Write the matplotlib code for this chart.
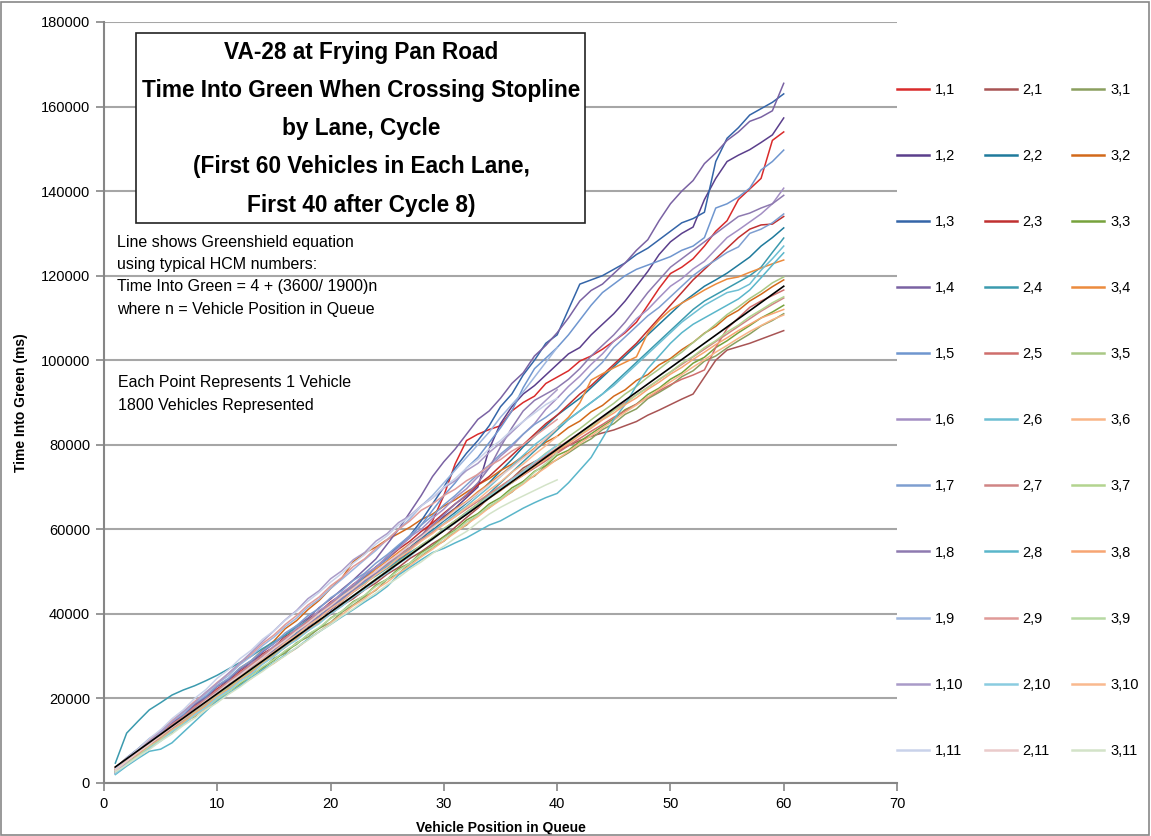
import matplotlib
matplotlib.use("Agg")
import matplotlib.pyplot as plt
import numpy as np
from matplotlib.patches import Rectangle

plt.rcParams['font.family'] = ['Liberation Sans', 'DejaVu Sans']

# values in seconds (x1000 -> ms); position in queue starts at 1
v1_1 = [3.5, 5.3, 7.4, 9.5, 11.2, 13.4, 15.0, 17.3, 19.1, 21.0, 23.2, 24.8, 27.0, 28.6, 30.9, 32.7, 34.5, 36.2, 38.4, 40.1,
        42.5, 44.0, 46.3, 48.0, 50.2, 52.5, 55.0, 58.3, 62.0, 68.0, 75.5, 81.0, 82.5, 83.6, 84.5, 88.0, 90.0, 91.5, 94.5, 96.0,
        97.5, 99.8, 101.0, 102.6, 104.5, 106.5, 109.0, 113.0, 117.0, 120.5, 122.0, 124.0, 127.0, 130.5, 133.0, 138.0, 140.5, 143.0, 152.0, 154.0]
v1_2 = [2.2, 4.8, 7.0, 9.0, 11.2, 13.0, 15.3, 17.0, 19.2, 21.2, 23.0, 25.2, 27.0, 29.5, 31.2, 33.0, 35.5, 37.0, 39.2, 41.0,
        43.0, 45.2, 47.0, 49.5, 51.2, 53.0, 55.5, 57.5, 60.5, 63.0, 65.0, 67.5, 70.0, 79.0, 85.0, 89.0, 92.0, 94.0, 96.5, 99.0,
        101.5, 103.0, 106.0, 108.5, 111.0, 114.0, 117.5, 121.0, 125.0, 128.0, 130.0, 131.5, 138.0, 143.0, 147.0, 148.5, 149.8, 151.5, 153.3, 157.3]
v1_3 = [3.3, 5.6, 7.5, 9.8, 12.5, 14.0, 16.5, 18.0, 20.5, 22.0, 24.5, 26.0, 28.4, 30.5, 32.0, 34.5, 36.0, 38.5, 40.5, 42.0,
        44.5, 46.5, 48.5, 51.0, 53.5, 56.0, 58.5, 62.0, 66.0, 70.0, 74.5, 78.0, 81.0, 84.5, 89.0, 92.0, 96.5, 100.0, 104.0, 106.0,
        112.0, 118.0, 119.0, 120.0, 121.5, 123.0, 125.0, 126.5, 128.5, 130.5, 132.5, 133.5, 135.0, 147.0, 152.5, 155.0, 158.0, 159.5, 161.0, 163.0]
v1_4 = [3.0, 5.5, 7.8, 10.0, 12.0, 14.3, 16.0, 18.5, 20.2, 22.8, 24.5, 26.8, 28.5, 31.0, 33.0, 35.0, 37.2, 39.0, 41.5, 43.5,
        45.8, 48.0, 50.5, 53.0, 56.5, 60.0, 64.0, 68.0, 72.5, 76.0, 79.0, 82.5, 86.0, 88.0, 91.0, 94.5, 97.0, 101.0, 103.5, 106.5,
        110.0, 114.0, 116.5, 118.0, 120.5, 123.0, 126.0, 128.5, 133.0, 137.0, 140.0, 142.5, 146.5, 149.0, 152.0, 154.0, 156.5, 157.5, 159.0, 165.5]
v1_5 = [3.0, 5.2, 7.6, 9.4, 11.8, 13.5, 15.9, 17.6, 20.0, 21.8, 24.0, 25.7, 28.0, 30.2, 32.0, 34.3, 36.0, 38.4, 40.2, 42.5,
        44.6, 46.4, 48.9, 51.0, 53.0, 55.8, 58.0, 61.0, 64.5, 68.0, 71.0, 74.5, 77.0, 80.5, 84.0, 88.0, 93.5, 98.0, 100.5, 103.0,
        106.0, 109.5, 113.0, 116.0, 118.0, 120.0, 121.5, 122.5, 123.5, 124.5, 126.0, 127.0, 129.0, 136.0, 137.0, 138.6, 140.7, 145.0, 147.0, 149.7]
v1_6 = [2.8, 5.0, 7.4, 9.2, 11.6, 13.3, 15.7, 17.4, 19.8, 21.6, 23.9, 25.8, 28.3, 30.0, 32.4, 34.0, 36.6, 38.2, 40.8, 42.5,
        45.0, 46.9, 49.4, 51.0, 53.6, 55.5, 58.2, 60.0, 62.6, 64.8, 67.5, 69.6, 72.4, 74.5, 77.3, 79.6, 82.5, 85.0, 88.4, 91.0,
        93.8, 96.2, 99.0, 101.5, 104.5, 106.8, 109.8, 112.0, 114.8, 117.5, 119.3, 121.6, 123.4, 126.2, 129.0, 130.8, 132.7, 134.6, 137.0, 140.7]
v1_7 = [3.4, 6.0, 8.1, 10.5, 12.2, 14.6, 16.3, 18.9, 20.6, 23.0, 24.8, 27.2, 29.0, 31.3, 33.0, 35.5, 37.2, 39.6, 41.3, 43.8,
        45.5, 47.9, 49.6, 52.0, 54.0, 56.3, 58.5, 61.0, 63.2, 65.8, 68.0, 70.5, 73.0, 75.2, 77.8, 80.0, 82.5, 84.8, 86.5, 88.5,
        91.5, 94.0, 97.0, 99.5, 103.0, 105.5, 108.0, 110.5, 112.5, 115.0, 117.5, 120.0, 122.0, 123.7, 125.5, 126.8, 130.0, 131.0, 132.5, 134.6]
v1_8 = [2.5, 4.6, 6.9, 8.7, 11.0, 12.8, 15.0, 17.2, 19.0, 21.3, 23.0, 25.4, 27.2, 29.4, 31.3, 33.5, 35.2, 37.6, 39.4, 41.5,
        43.6, 45.5, 47.8, 49.6, 52.0, 54.0, 56.5, 58.6, 61.0, 63.5, 66.0, 68.2, 71.0, 74.5, 79.5, 84.0, 88.0, 90.5, 92.0, 93.5,
        95.5, 98.0, 101.0, 103.5, 106.0, 109.0, 112.5, 116.0, 119.0, 122.0, 124.0, 126.0, 128.0, 130.0, 132.0, 134.0, 134.8, 136.0, 137.0, 139.0]
v1_9 = [3.0, 5.5, 7.6, 10.1, 12.0, 14.6, 16.5, 19.0, 21.0, 23.5, 25.4, 28.0, 30.0, 32.5, 34.5, 37.0, 39.0, 41.6, 43.5, 46.0,
        48.2, 50.5, 52.8, 55.0, 57.6, 60.0, 62.5, 65.5, 68.0, 71.0, 74.0, 77.0, 80.0, 83.0, 86.5, 89.5, 92.5, 96.0, 99.5, 103.0]
v1_10 = [2.4, 5.0, 7.5, 9.8, 12.2, 14.5, 16.9, 19.0, 21.5, 23.6, 26.0, 28.4, 30.9, 33.5, 36.0, 38.6, 40.8, 43.6, 45.5, 48.3,
         50.2, 52.8, 54.5, 57.2, 59.0, 61.6, 63.2, 65.6, 67.4, 69.8, 71.5, 73.9, 75.6, 78.2, 80.4, 83.0, 85.5, 88.0, 90.5, 93.0]
v1_11 = [3.4, 5.8, 8.0, 10.5, 12.6, 15.2, 17.3, 20.0, 22.1, 24.8, 26.8, 29.4, 31.4, 34.0, 36.0, 38.5, 40.6, 43.0, 45.1, 47.5,
         49.6, 52.0, 54.0, 56.5, 58.5, 61.0, 63.0, 65.5, 67.5, 70.0, 72.0, 74.5, 76.5, 79.0, 81.0, 83.5, 85.5, 87.5, 89.5, 91.0]

v2_1 = [3.1, 5.0, 7.2, 9.0, 11.2, 13.0, 15.1, 16.9, 19.0, 20.8, 22.9, 24.6, 26.8, 28.5, 30.6, 32.3, 34.5, 36.1, 38.2, 39.9,
        42.0, 43.6, 45.7, 47.3, 49.4, 51.0, 53.1, 54.7, 56.6, 58.2, 60.5, 62.8, 65.0, 67.5, 70.0, 72.0, 74.5, 76.0, 77.2, 78.5,
        79.8, 81.0, 82.0, 82.8, 83.5, 84.5, 85.5, 87.0, 88.2, 89.5, 90.8, 92.0, 96.0, 100.0, 102.4, 103.2, 104.0, 105.0, 106.0, 107.0]
v2_2 = [2.8, 5.3, 7.0, 9.3, 11.0, 13.4, 15.0, 17.5, 19.2, 21.5, 23.3, 25.6, 27.3, 29.6, 31.4, 33.6, 35.4, 37.7, 39.5, 41.7,
        43.5, 45.8, 47.6, 49.8, 51.6, 53.9, 55.7, 58.0, 59.8, 62.0, 64.0, 66.2, 68.5, 71.0, 73.8, 76.5, 79.5, 82.0, 84.5, 87.0,
        89.0, 91.0, 93.5, 96.0, 98.5, 101.0, 103.5, 106.0, 108.5, 111.0, 113.5, 115.5, 117.5, 119.0, 120.6, 122.5, 124.4, 127.0, 129.0, 131.3]
v2_3 = [3.6, 5.8, 7.7, 10.0, 11.7, 14.1, 15.8, 18.2, 20.0, 22.3, 24.0, 26.4, 28.2, 30.5, 32.2, 34.6, 36.3, 38.7, 40.5, 42.8,
        44.6, 47.0, 48.8, 51.1, 53.0, 55.3, 57.2, 59.5, 61.5, 63.8, 66.0, 68.0, 70.5, 72.5, 75.0, 77.5, 80.0, 82.5, 85.0, 87.0,
        89.5, 92.0, 94.0, 96.5, 99.0, 101.5, 104.0, 107.0, 110.0, 113.0, 116.0, 119.0, 121.5, 124.0, 126.5, 129.0, 131.0, 132.0, 132.2, 134.0]
v2_4 = [4.7, 11.8, 14.6, 17.3, 19.0, 20.8, 22.0, 23.0, 24.2, 25.5, 27.0, 28.5, 30.0, 31.8, 33.4, 35.0, 36.8, 38.5, 40.2, 42.0,
        43.8, 45.5, 47.3, 49.0, 50.8, 52.6, 54.5, 56.2, 58.0, 60.0, 62.0, 64.0, 66.0, 68.5, 71.0, 73.5, 76.0, 78.5, 81.0, 83.5,
        86.0, 88.0, 90.0, 92.0, 94.5, 97.0, 99.5, 102.0, 104.5, 107.0, 109.5, 112.0, 114.0, 115.5, 117.0, 118.5, 120.0, 122.0, 125.5, 128.9]
v2_5 = [3.2, 5.1, 7.0, 8.9, 10.8, 12.7, 14.6, 16.5, 18.4, 20.3, 22.4, 24.3, 26.3, 28.2, 30.2, 32.1, 34.1, 36.0, 38.1, 40.0,
        42.1, 44.0, 46.0, 48.0, 50.0, 52.0, 54.0, 56.0, 58.0, 60.0, 62.0, 63.8, 65.6, 67.5, 69.3, 71.0, 72.8, 74.5, 76.2, 78.0,
        79.8, 81.5, 83.2, 84.8, 86.5, 88.0, 89.6, 91.2, 92.8, 94.2, 95.5, 96.5, 97.7, 103.0, 107.5, 110.0, 112.5, 114.0, 115.3, 116.6]
v2_6 = [2.6, 4.5, 6.6, 8.5, 10.8, 12.6, 14.8, 16.7, 18.9, 20.8, 23.0, 24.9, 27.1, 29.0, 31.2, 33.1, 35.3, 37.2, 39.4, 41.3,
        43.5, 45.4, 47.6, 49.5, 51.5, 53.4, 55.5, 57.4, 59.5, 61.4, 63.5, 65.5, 67.8, 70.0, 72.5, 75.0, 77.5, 80.0, 82.0, 84.0,
        86.0, 88.0, 90.0, 92.0, 94.0, 96.5, 99.0, 101.5, 104.0, 106.5, 109.0, 111.0, 113.0, 114.5, 116.0, 116.6, 118.0, 121.3, 124.0, 127.0]
v2_7 = [3.4, 5.6, 7.5, 9.8, 11.6, 13.9, 15.7, 18.0, 19.8, 22.0, 23.9, 26.1, 28.0, 30.2, 32.0, 34.3, 36.1, 38.3, 40.1, 42.3,
        44.1, 46.2, 48.0, 50.0, 51.8, 53.8, 55.6, 57.5, 59.3, 61.2, 63.0, 64.8, 66.6, 68.4, 70.2, 72.0, 73.8, 75.6, 77.4, 79.2,
        81.0, 82.8, 84.6, 86.4, 88.2, 90.0, 91.8, 93.6, 95.4, 97.2, 99.0, 100.8, 102.6, 104.4, 106.2, 108.0, 109.8, 111.6, 113.2, 114.7]
v2_8 = [2.0, 4.0, 5.8, 7.5, 8.0, 9.5, 12.0, 14.5, 17.0, 19.5, 21.2, 23.0, 25.0, 26.8, 28.5, 30.3, 32.0, 34.0, 35.8, 37.5,
        39.3, 41.0, 42.8, 44.5, 46.5, 49.2, 51.0, 52.8, 54.5, 55.5, 56.8, 58.0, 59.5, 61.0, 62.0, 63.5, 65.0, 66.3, 67.5, 68.5,
        71.0, 74.0, 77.0, 81.5, 86.0, 89.5, 94.0, 98.0, 101.0, 104.0, 106.5, 108.5, 110.0, 111.5, 113.0, 114.5, 116.6, 119.5, 122.5, 125.4]
v2_9 = [3.3, 5.8, 7.9, 10.3, 12.4, 14.8, 16.9, 19.3, 21.4, 23.8, 25.9, 28.4, 30.5, 33.0, 35.0, 37.5, 39.6, 42.1, 44.0, 46.6,
        48.6, 51.2, 53.0, 55.5, 57.5, 60.0, 62.0, 64.5, 66.0, 68.0, 69.5, 71.5, 73.0, 75.0, 76.5, 78.5, 80.0, 82.0, 84.0, 86.0]
v2_10 = [2.2, 4.3, 6.0, 8.2, 9.9, 12.1, 13.8, 16.1, 17.9, 20.2, 21.9, 24.1, 25.8, 28.1, 29.9, 32.2, 33.8, 36.0, 37.7, 40.0,
         41.8, 44.0, 45.7, 48.0, 49.7, 51.9, 53.6, 55.9, 57.6, 59.9, 61.5, 63.8, 65.5, 67.8, 69.6, 71.8, 73.6, 75.9, 77.8, 80.0]
v2_11 = [3.0, 5.1, 7.3, 9.1, 11.4, 13.2, 15.4, 17.3, 19.5, 21.4, 23.6, 25.5, 27.6, 29.6, 31.8, 33.7, 35.9, 37.8, 40.0, 41.9,
         44.1, 46.0, 48.2, 50.0, 52.2, 54.1, 56.3, 58.2, 60.4, 62.3, 64.5, 66.4, 68.5, 70.5, 72.6, 74.6, 76.8, 78.9, 81.5, 84.0]

v3_1 = [3.0, 4.6, 7.1, 8.5, 10.9, 12.2, 14.6, 15.8, 18.3, 19.6, 21.9, 23.1, 25.8, 27.0, 29.5, 30.7, 33.2, 34.5, 36.6, 38.0,
        40.4, 42.1, 44.0, 45.6, 48.2, 49.5, 51.9, 53.6, 55.7, 57.2, 59.5, 61.0, 63.6, 65.1, 67.2, 68.8, 71.3, 72.6, 75.0, 76.5,
        78.1, 79.9, 81.4, 83.6, 85.0, 87.2, 88.5, 90.9, 92.4, 94.0, 96.1, 97.5, 99.8, 101.0, 102.9, 104.6, 106.2, 108.1, 109.4, 111.0]
v3_2 = [3.6, 5.9, 8.0, 10.3, 12.1, 14.6, 16.2, 18.8, 20.4, 23.0, 24.6, 27.2, 28.9, 31.5, 33.6, 36.5, 38.4, 41.0, 43.2, 46.0,
        48.5, 52.3, 54.4, 55.8, 57.6, 59.0, 60.5, 62.3, 63.6, 65.5, 67.0, 68.8, 70.5, 72.0, 73.9, 75.4, 77.3, 78.8, 80.6, 82.0,
        84.1, 85.6, 87.8, 89.3, 91.5, 93.0, 95.2, 96.6, 98.9, 100.4, 102.5, 104.2, 106.4, 108.0, 110.3, 111.8, 114.0, 115.6, 117.4, 119.0]
v3_3 = [2.7, 4.5, 6.9, 8.2, 10.6, 11.9, 14.4, 15.7, 18.1, 19.5, 21.7, 23.4, 25.5, 27.3, 29.0, 31.2, 32.8, 35.1, 36.6, 39.0,
        40.6, 42.9, 44.3, 46.8, 48.2, 50.7, 52.0, 54.5, 56.1, 58.3, 59.8, 62.2, 63.7, 66.0, 67.5, 69.8, 71.3, 73.7, 75.1, 77.5,
        78.7, 80.8, 82.6, 84.4, 86.1, 88.3, 89.6, 91.9, 93.4, 95.5, 97.0, 99.3, 100.7, 103.0, 104.6, 106.5, 108.2, 110.0, 111.4, 113.0]
v3_4 = [3.2, 5.4, 7.3, 9.6, 11.5, 13.7, 15.5, 17.9, 19.7, 21.9, 23.8, 26.0, 27.8, 30.1, 32.0, 34.2, 36.0, 38.3, 40.1, 42.4,
        44.2, 46.5, 48.3, 50.6, 52.5, 54.6, 56.6, 58.6, 60.7, 62.6, 64.8, 66.6, 68.9, 70.8, 72.9, 75.0, 77.0, 79.2, 81.4, 84.0,
        86.5, 89.9, 95.3, 96.8, 98.2, 99.5, 100.8, 106.4, 109.5, 111.9, 113.5, 115.0, 116.6, 118.0, 119.2, 119.7, 120.8, 121.8, 122.8, 123.7]
v3_5 = [2.9, 4.8, 6.7, 8.9, 10.6, 12.8, 14.6, 16.7, 18.6, 20.6, 22.6, 24.5, 26.6, 28.4, 30.5, 32.4, 34.5, 36.3, 38.5, 40.2,
        42.4, 44.3, 46.3, 48.3, 50.2, 52.3, 54.1, 56.3, 58.0, 60.2, 62.0, 64.1, 66.0, 68.0, 70.0, 71.9, 74.0, 75.8, 78.0, 79.8,
        81.9, 83.8, 85.9, 87.9, 89.8, 92.0, 93.8, 96.0, 97.9, 100.0, 101.9, 104.2, 106.3, 108.5, 110.8, 112.6, 114.6, 116.3, 118.3, 119.7]
v3_6 = [3.3, 5.0, 6.8, 8.7, 10.3, 12.2, 13.9, 15.9, 17.6, 19.5, 21.1, 23.0, 24.7, 26.7, 28.3, 30.2, 31.9, 33.9, 35.8, 37.9,
        39.8, 41.9, 43.6, 45.8, 47.5, 49.6, 51.4, 53.5, 55.3, 57.3, 59.2, 61.2, 63.0, 65.1, 66.9, 68.9, 70.7, 72.8, 74.6, 76.6,
        78.4, 80.3, 82.1, 84.0, 85.8, 87.7, 89.4, 91.3, 93.1, 94.9, 96.6, 98.4, 100.1, 101.9, 103.5, 105.2, 106.8, 108.2, 109.6, 110.7]
v3_7 = [3.5, 5.2, 7.4, 9.0, 11.3, 12.9, 15.2, 16.8, 19.0, 20.7, 22.9, 24.6, 26.8, 28.5, 30.7, 32.4, 34.6, 36.3, 38.5, 40.2,
        42.4, 44.1, 46.3, 48.0, 50.2, 51.9, 54.1, 55.8, 58.0, 59.7, 61.9, 63.5, 65.6, 67.3, 69.4, 71.0, 73.1, 74.8, 76.9, 78.5,
        80.6, 82.3, 84.3, 86.0, 88.1, 89.7, 91.8, 93.5, 95.5, 97.2, 99.3, 100.9, 103.0, 104.6, 106.7, 108.3, 110.3, 111.9, 113.6, 115.0]
v3_8 = [2.5, 4.6, 6.5, 8.7, 10.4, 12.6, 14.4, 16.5, 18.3, 20.5, 22.2, 24.4, 26.1, 28.3, 30.0, 32.3, 34.0, 36.2, 37.9, 40.1,
        41.9, 44.1, 45.8, 48.0, 49.8, 52.0, 53.7, 55.9, 57.6, 59.8, 61.5, 63.6, 65.3, 67.4, 69.1, 71.2, 72.8, 74.9, 76.6, 78.6,
        80.2, 82.2, 83.9, 85.9, 87.5, 89.5, 91.1, 93.1, 94.8, 96.7, 98.3, 100.2, 101.9, 103.7, 105.3, 107.0, 108.5, 110.0, 111.0, 112.0]
v3_9 = [2.8, 4.6, 6.4, 8.5, 10.2, 12.3, 14.0, 16.1, 17.8, 19.9, 21.6, 23.7, 25.4, 27.5, 29.2, 31.3, 33.0, 35.1, 36.8, 38.9,
        40.6, 42.7, 44.4, 46.5, 48.2, 50.3, 52.0, 54.1, 55.8, 57.9, 59.6, 61.7, 63.4, 65.5, 67.2, 69.3, 71.0, 73.5, 75.6, 78.0]
v3_10 = [3.1, 5.2, 7.0, 9.2, 11.0, 13.2, 15.0, 17.2, 19.0, 21.2, 23.0, 25.2, 27.0, 29.2, 31.0, 33.2, 35.0, 37.2, 39.0, 41.2,
         43.0, 45.2, 47.0, 49.2, 51.0, 53.2, 55.0, 57.2, 59.0, 61.2, 63.0, 65.2, 67.0, 69.3, 71.2, 73.5, 75.4, 77.7, 79.8, 82.0]
v3_11 = [2.6, 4.3, 6.2, 7.9, 9.9, 11.6, 13.6, 15.3, 17.3, 19.0, 21.0, 22.7, 24.7, 26.4, 28.4, 30.1, 32.1, 33.8, 35.8, 37.5,
         39.5, 41.2, 43.2, 44.9, 46.9, 48.6, 50.6, 52.3, 54.3, 56.0, 57.9, 59.5, 61.6, 63.6, 65.2, 66.6, 67.9, 69.2, 70.5, 71.7]

greenshield_n = [1, 60]
greenshield_t = [3.8, 117.5]

colors = {
    '1,1': '#D92B2B', '1,2': '#5B3F8C', '1,3': '#3465A8', '1,4': '#7A62A3', '1,5': '#6F96CF', '1,6': '#A48FC4',
    '1,7': '#7E9ED0', '1,8': '#8E7AB0', '1,9': '#9DB6DF', '1,10': '#A99BC8', '1,11': '#C9D2EA',
    '2,1': '#A85454', '2,2': '#1F7A9C', '2,3': '#C03030', '2,4': '#3B9AAE', '2,5': '#CF6E6C', '2,6': '#6DBFD3',
    '2,7': '#D08585', '2,8': '#5AB6CA', '2,9': '#E09A98', '2,10': '#8ACCE0', '2,11': '#EACBCB',
    '3,1': '#8A9F5E', '3,2': '#D2691A', '3,3': '#77A23C', '3,4': '#EC8B3D', '3,5': '#A9C885', '3,6': '#F9B587',
    '3,7': '#B3D48F', '3,8': '#F7A573', '3,9': '#B7D9A3', '3,10': '#F9B98F', '3,11': '#D3E3C8',
}
series = {}
for lane, arrs in ((1, [v1_1, v1_2, v1_3, v1_4, v1_5, v1_6, v1_7, v1_8, v1_9, v1_10, v1_11]),
                   (2, [v2_1, v2_2, v2_3, v2_4, v2_5, v2_6, v2_7, v2_8, v2_9, v2_10, v2_11]),
                   (3, [v3_1, v3_2, v3_3, v3_4, v3_5, v3_6, v3_7, v3_8, v3_9, v3_10, v3_11])):
    for c, a in enumerate(arrs, start=1):
        series[f'{lane},{c}'] = a

W, H = 1151, 836
fig = plt.figure(figsize=(W / 100, H / 100), dpi=100)
ax = fig.add_axes([104 / W, 1 - 783 / H, (897 - 104) / W, (783 - 22) / H])

handles = {}
for c in range(1, 12):
    for lane in (1, 2, 3):
        key = f'{lane},{c}'
        vals = np.array(series[key]) * 1000
        n = np.arange(1, len(vals) + 1)
        h, = ax.plot(n, vals, color=colors[key], lw=1.1, label=key)
        handles[key] = h
ax.plot(greenshield_n, np.array(greenshield_t) * 1000, color='black', lw=1.2)

ax.set_xlim(0, 70)
ax.set_ylim(0, 180000)
ax.set_xticks(np.arange(0, 71, 10))
ax.set_yticks(np.arange(0, 180001, 20000))
ax.yaxis.grid(True, color='#A6A6A6', lw=1.5)
ax.set_axisbelow(True)
for s in ('top', 'right'):
    ax.spines[s].set_visible(False)
for s in ('left', 'bottom'):
    ax.spines[s].set_color('#868686')
    ax.spines[s].set_linewidth(1.5)
ax.tick_params(axis='both', direction='out', length=6, width=1.2, color='#868686', labelsize=10.5, pad=4)
ax.set_xlabel('Vehicle Position in Queue', fontsize=10, fontweight='bold', labelpad=7)
ax.set_ylabel('Time Into Green (ms)', fontsize=10, fontweight='bold', labelpad=9)

# title box
fig.add_artist(Rectangle((136 / W, 1 - 223 / H), (585 - 136) / W, (223 - 33) / H, transform=fig.transFigure,
                         fill=True, facecolor='white', edgecolor='#222222', lw=1.2, zorder=5))
title_lines = ['VA-28 at Frying Pan Road', 'Time Into Green When Crossing Stopline', 'by Lane, Cycle',
               '(First 60 Vehicles in Each Lane,', 'First 40 after Cycle 8)']
for i, t in enumerate(title_lines):
    fig.text(361 / W, 1 - (52 + i * 38.3) / H, t, ha='center', va='center', fontsize=16.3, fontweight='bold',
             zorder=6)

note1 = ['Line shows Greenshield equation', 'using typical HCM numbers:', 'Time Into Green = 4 + (3600/ 1900)n',
         'where n = Vehicle Position in Queue']
for i, t in enumerate(note1):
    fig.text(117 / W, 1 - (242 + i * 22.5) / H, t, ha='left', va='center', fontsize=11.5, zorder=6)
note2 = ['Each Point Represents 1 Vehicle', '1800 Vehicles Represented']
for i, t in enumerate(note2):
    fig.text(118 / W, 1 - (383 + i * 22.5) / H, t, ha='left', va='center', fontsize=11.5, zorder=6)

order = [f'{lane},{c}' for lane in (1, 2, 3) for c in range(1, 12)]
leg = fig.legend([handles[k] for k in order], order, ncol=3, loc='upper left',
                 bbox_to_anchor=(884 / W, 1 - 70 / H), frameon=False, fontsize=10.5,
                 handlelength=2.2, handletextpad=0.4, columnspacing=1.45, labelspacing=3.57)
for l in leg.get_lines():
    l.set_linewidth(1.8)

fig.add_artist(Rectangle((1 / W, 1 / H), (W - 3) / W, (H - 3) / H, transform=fig.transFigure,
                         fill=False, edgecolor='#878787', lw=1.2))
fig.savefig('out.png', dpi=100)
